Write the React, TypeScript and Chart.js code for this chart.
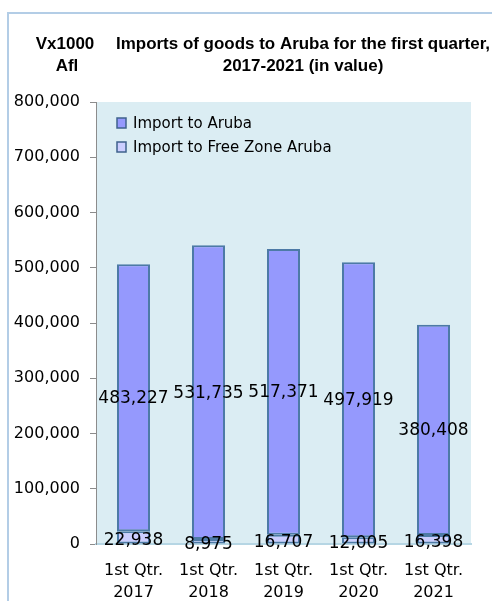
import React, { useEffect, useRef } from "react";
import { Chart, registerables } from "chart.js";

Chart.register(...registerables);

const categories: string[][] = [
  ["1st Qtr.", "2017"],
  ["1st Qtr.", "2018"],
  ["1st Qtr.", "2019"],
  ["1st Qtr.", "2020"],
  ["1st Qtr.", "2021"],
];
const importToAruba = [483227, 531735, 517371, 497919, 380408];
const importToFreeZone = [22938, 8975, 16707, 12005, 16398];
const seriesNames = ["Import to Aruba", "Import to Free Zone Aruba"];
const titleLines = ["Imports of goods to Aruba for the first quarter,", "2017-2021 (in value)"];
const unitLines = ["Vx1000", "Afl"];
const yTicks = { min: 0, max: 800000, step: 100000 };

const ARUBA_FILL = "#9599fd";
const FZ_FILL = "#ccceff";
const BAR_BORDER = "#4d7aa6";
const PLOT_BG = "#dbedf3";
const FRAME = "#b3cde6";
const AXIS_GRAY = "#8c8c8c";
const XAXIS_LINE = "#b6d6e4";
const FONT = "'DejaVu Sans', sans-serif";
const BOLD = "bold 17px 'Liberation Sans', Arial, sans-serif";

const fmt = (v: number) => v.toLocaleString("en-US");

const decorPlugin = {
  id: "decor",
  beforeDraw(chart: any) {
    const { ctx, chartArea } = chart;
    ctx.save();
    ctx.fillStyle = "#ffffff";
    ctx.fillRect(0, 0, chart.width, chart.height);
    // outer frame
    ctx.strokeStyle = FRAME;
    ctx.lineWidth = 2;
    ctx.beginPath();
    ctx.moveTo(8, chart.height);
    ctx.lineTo(8, 13);
    ctx.lineTo(chart.width, 13);
    ctx.stroke();
    // plot background
    ctx.fillStyle = PLOT_BG;
    ctx.fillRect(chartArea.left, chartArea.top, chartArea.right - chartArea.left, chartArea.bottom - chartArea.top);
    ctx.restore();
  },
  afterDraw(chart: any) {
    const { ctx, chartArea } = chart;
    ctx.save();
    ctx.fillStyle = "#000";
    ctx.font = BOLD;
    ctx.textAlign = "center";
    ctx.textBaseline = "alphabetic";
    ctx.fillText(titleLines[0], 303, 49, 374);
    ctx.fillText(titleLines[1], 303, 71);
    ctx.fillText(unitLines[0], 65, 49);
    ctx.fillText(unitLines[1], 67, 71);

    // legend (inside plot area)
    const legendItems = [
      { label: seriesNames[0], fill: ARUBA_FILL },
      { label: seriesNames[1], fill: FZ_FILL },
    ];
    ctx.font = `15px ${FONT}`;
    ctx.textAlign = "left";
    ctx.textBaseline = "middle";
    legendItems.forEach((it, i) => {
      const cy = chartArea.top + 21 + i * 24;
      const bx = chartArea.left + 21;
      ctx.fillStyle = it.fill;
      ctx.fillRect(bx, cy - 5, 9, 10);
      ctx.strokeStyle = "#3f628d";
      ctx.lineWidth = 1.5;
      ctx.strokeRect(bx, cy - 5, 9, 10);
      ctx.fillStyle = "#000";
      ctx.fillText(it.label, bx + 16, cy + 1);
    });

    // data labels
    ctx.font = `17px ${FONT}`;
    ctx.textAlign = "center";
    ctx.textBaseline = "middle";
    chart.data.datasets.forEach((ds: any, di: number) => {
      const meta = chart.getDatasetMeta(di);
      meta.data.forEach((el: any, i: number) => {
        const v = ds.data[i];
        const cy = (el.y + el.base) / 2 + (di === 0 ? 3 : 1);
        ctx.fillStyle = "#000";
        ctx.fillText(fmt(v), el.x, cy);
      });
    });
    ctx.restore();
  },
};

export default function App() {
  const ref = useRef<HTMLCanvasElement | null>(null);
  useEffect(() => {
    if (!ref.current) return;
    const chart = new Chart(ref.current, {
      type: "bar",
      data: {
        labels: categories,
        datasets: [
          {
            label: seriesNames[1],
            data: importToFreeZone,
            backgroundColor: FZ_FILL,
            borderColor: BAR_BORDER,
            borderWidth: 2,
            borderSkipped: false,
            barPercentage: 0.44,
            categoryPercentage: 1,
          },
          {
            label: seriesNames[0],
            data: importToAruba,
            backgroundColor: ARUBA_FILL,
            borderColor: BAR_BORDER,
            borderWidth: 2,
            borderSkipped: false,
            barPercentage: 0.44,
            categoryPercentage: 1,
          },
        ],
      },
      options: {
        responsive: false,
        animation: false,
        devicePixelRatio: 1,
        layout: { padding: { top: 102, left: 0, right: 21, bottom: 0 } },
        plugins: {
          legend: { display: false },
          title: { display: false },
          tooltip: { enabled: false },
        },
        scales: {
          x: {
            stacked: true,
            grid: { display: false, drawTicks: false },
            border: { display: true, color: XAXIS_LINE, width: 2 },
            ticks: {
              color: "#000",
              font: { family: FONT, size: 16, lineHeight: 1.375 },
              padding: 16,
              maxRotation: 0,
              autoSkip: false,
            },
            afterFit: (s: any) => {
              s.height = 57;
            },
          },
          y: {
            stacked: true,
            min: yTicks.min,
            max: yTicks.max,
            grid: {
              display: true,
              drawOnChartArea: false,
              drawTicks: true,
              tickLength: 6,
              color: AXIS_GRAY,
            },
            border: { display: true, color: AXIS_GRAY, width: 1 },
            ticks: {
              stepSize: yTicks.step,
              color: "#000",
              font: { family: FONT, size: 16 },
              padding: 10,
              callback: (v: any) => fmt(Number(v)),
            },
            afterFit: (s: any) => {
              s.width = 96;
            },
          },
        },
      },
      plugins: [decorPlugin],
    });
    return () => chart.destroy();
  }, []);
  return (
    <div style={{ position: "absolute", left: 0, top: 0, width: 492, height: 601 }}>
      <canvas ref={ref} width={492} height={601} style={{ display: "block" }} />
    </div>
  );
}
